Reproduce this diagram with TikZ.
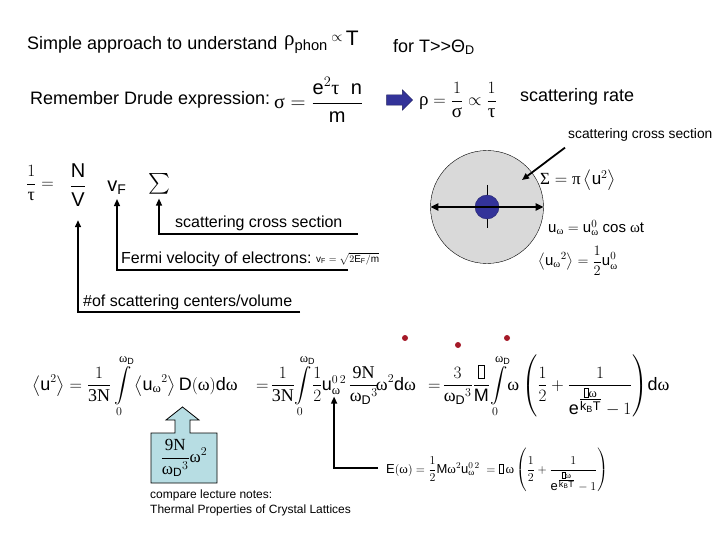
\documentclass[tikz,border=0pt]{standalone}
\usepackage{amsmath}
\usepackage{fontspec}
\setmainfont{Liberation Sans}
\newfontfamily\grk{Liberation Serif}
\usetikzlibrary{arrows.meta,positioning,shapes.arrows}

\definecolor{ionblue}{RGB}{51,51,153}
\definecolor{ringgray}{RGB}{217,217,217}
\definecolor{boxteal}{RGB}{183,221,227}
\definecolor{dotred}{RGB}{165,25,40}

\newcommand{\gr}[1]{\text{\grk #1}}
\newcommand{\tx}[1]{\text{#1}}
\newcommand{\nog}{\text{\setlength{\fboxsep}{0pt}\setlength{\fboxrule}{0.4pt}\fbox{\rule{0pt}{0.7em}\hspace{0.3em}}}}
\newcommand{\bose}{\frac{1}{\tx{e}^{\genfrac{}{}{}{1}{\nog\gr{ω}}{\tx{k}_{\tx{B}}\tx{T}}}-1}}

\begin{document}
\begin{tikzpicture}[x=1pt, y=-1pt,
  txt/.style={inner sep=0pt, font=\fontsize{18}{21}\selectfont},
  lbl/.style={inner sep=0pt, font=\fontsize{16}{19}\selectfont},
  note/.style={inner sep=0pt, font=\fontsize{12}{14.5}\selectfont, align=left},
  eq/.style={inner sep=0pt, font=\fontsize{18}{22}\selectfont},
  eqs/.style={inner sep=0pt, font=\fontsize{15}{18}\selectfont},
  arr/.style={-{Triangle[length=7pt,width=6pt]}, line width=1.4pt},
  dbl/.style={{Triangle[length=8pt,width=7pt]}-{Triangle[length=8pt,width=7pt]}, line width=1.8pt}
]
\useasboundingbox (0,0) rectangle (720,540);

% header
\node[txt, anchor=west] (intro) at (27,45) {Simple approach to understand};
\node[eq, font=\fontsize{21}{24}\selectfont, anchor=west] (rhoT) at (284,42)
      {$\gr{ρ}_{\tx{phon}}\,\raisebox{4pt}{$\scriptstyle\propto$}\,\tx{T}$};
\node[txt, anchor=west] (hiT) at (393,47) {for T>{}>Θ\textsubscript{D}};

% Drude
\node[txt, anchor=west] (drude) at (30,100) {Remember Drude expression:};
\node[eq, font=\fontsize{20}{24}\selectfont, anchor=west] (sigma) at (274,100)
      {$\displaystyle\gr{σ}=\frac{\tx{e}^2\gr{τ}\;\;\tx{n}}{\tx{m}}$};
\node[single arrow, fill=ionblue, draw=ionblue!60!black, inner sep=5pt,
      minimum height=26pt, single arrow head extend=5pt] (impl) at (397,100) {};
\node[eq, font=\fontsize{19}{23}\selectfont, anchor=west] (rho) at (419,100)
      {$\displaystyle\gr{ρ}=\frac{1}{\gr{σ}}\propto\frac{1}{\gr{τ}}$};
\node[txt, anchor=west] (rate) at (520,97) {scattering rate};

% 1/tau
\node[eq, anchor=west] (tau) at (26,183) {$\displaystyle\frac{1}{\gr{τ}}=$};
\node[eq, font=\fontsize{20}{24}\selectfont] (NV) at (78,185)
      {$\displaystyle\frac{\tx{N}}{\tx{V}}$};
\node[eq, font=\fontsize{20}{24}\selectfont] (vF) at (117,188) {$\tx{v}_{\tx{F}}$};
\node[eq, font=\fontsize{20}{24}\selectfont] (sig) at (159,184) {$\sum$};

\node[lbl, anchor=base west] (csLbl) at (175,227) {scattering cross section};
\coordinate (csEnd) at (358,234);
\draw[arr, shorten >=4pt] (csEnd) -| (sig.south);

\node[lbl, anchor=base west] (fvLbl) at (121,263) {Fermi velocity of electrons:};
\node[inner sep=0pt, font=\fontsize{10}{12}\selectfont, anchor=west] (fvEq) at (316,259)
      {$\tx{v}_{\tx{F}}=\sqrt{2\tx{E}_{\tx{F}}/\tx{m}}$};
\coordinate (fvEnd) at (348,270);
\draw[arr, shorten >=4pt] (fvEnd) -| (vF.south);

\node[lbl, anchor=base west] (ncLbl) at (83,306) {\#of scattering centers/volume};
\coordinate (ncEnd) at (300,312);
\draw[arr, shorten >=14pt] (ncEnd) -| (NV.south);

% cross section picture
\node[circle, draw, fill=ringgray, minimum size=113pt] (ring) at (487,207) {};
\draw[line width=0.8pt] (487,185) -- (487,228);
\node[circle, fill=ionblue, draw=ionblue!70!black, minimum size=24pt] (ion) at (487,207) {};
\draw[dbl] (ring.west) -- (ring.east);
\node[note, font=\fontsize{13.8}{16}\selectfont, anchor=west] (csTop) at (568,135)
      {scattering cross section};
\coordinate (hit) at (522,180);
\draw[arr, line width=1.8pt] (csTop.south west) ++(-3,6) -- (hit);

\node[eq, font=\fontsize{17}{20}\selectfont, anchor=west] (sigU) at (540,180)
      {$\gr{Σ}=\gr{π}\left\langle\tx{u}^2\right\rangle$};
\node[eqs, anchor=west] (uw) at (548,228)
      {$\tx{u}_{\gr{ω}}=\tx{u}^0_{\gr{ω}}\;\tx{cos}\;\gr{ω}\tx{t}$};
\node[eqs, anchor=west] (uw2) at (538,261)
      {$\displaystyle\left\langle\tx{u}_{\gr{ω}}{}^2\right\rangle=\frac{1}{2}\tx{u}^0_{\gr{ω}}$};

% red dots
\foreach \p in {(405,338),(458,345),(507,338)}
  \fill[dotred] \p circle (3pt);

% average of u^2
\node[eq, anchor=base west] (eqA) at (32,390)
      {$\displaystyle\left\langle\tx{u}^2\right\rangle=\frac{1}{\gr{3N}}\int\limits_0^{\gr{ω}_{\tx{D}}}
       \left\langle\tx{u}_{\gr{ω}}{}^2\right\rangle\tx{D}(\gr{ω})\tx{d}\gr{ω}$};
\node[eq, anchor=base west] (eqB) at (256,390)
      {$\displaystyle=\!\frac{1}{\gr{3N}}\!\int\limits_0^{\gr{ω}_{\tx{D}}}\!\frac{1}{2}$};
\node[eq, base right=-1pt of eqB] (u0) {$\tx{u}^{0\,2}_{\gr{ω}}$};
\node[eq, base right=2pt of u0] (eqC)
      {$\displaystyle\frac{\gr{9N}}{\gr{ω}_{\tx{D}}{}^3}\!\gr{ω}^2\tx{d}\gr{ω}$};
\node[eq, anchor=base west] (eqD) at (428,390)
      {$\displaystyle=\!\frac{3}{\gr{ω}_{\tx{D}}{}^3}\frac{\nog}{\tx{M}}\!\int\limits_0^{\gr{ω}_{\tx{D}}}\!\gr{ω}
       \left(\frac{1}{2}+\bose\right)\!\tx{d}\gr{ω}$};

% density of states
\draw[fill=boxteal, line width=0.8pt] (151,483) -- (151,433) -- (175,433) -- (175,420)
  -- (166,420) -- (182.5,407) -- (199,420) -- (190,420) -- (190,433) -- (217,433)
  -- (217,483) -- cycle;
\node[eq, font=\fontsize{17}{20}\selectfont] (dos) at (184,458)
      {$\displaystyle\frac{\gr{9N}}{\gr{ω}_{\tx{D}}{}^3}\gr{ω}^2$};
\node[note, anchor=north west] (cmp) at (150,490)
      {compare lecture notes:\\Thermal Properties of Crystal Lattices};

% energy of oscillator
\node[eqs, font=\fontsize{13}{16}\selectfont, anchor=base west] (Eeq) at (386,473)
      {$\displaystyle\tx{E}(\gr{ω})=\frac{1}{2}\tx{M}\gr{ω}^2\tx{u}^{0\,2}_{\gr{ω}}\;=\nog\,\gr{ω}
       \left(\frac{1}{2}+\bose\right)$};
\coordinate (eEnd) at (378,468);
\draw[arr, shorten >=2pt] (eEnd) -| (u0.south);
\end{tikzpicture}
\end{document}
